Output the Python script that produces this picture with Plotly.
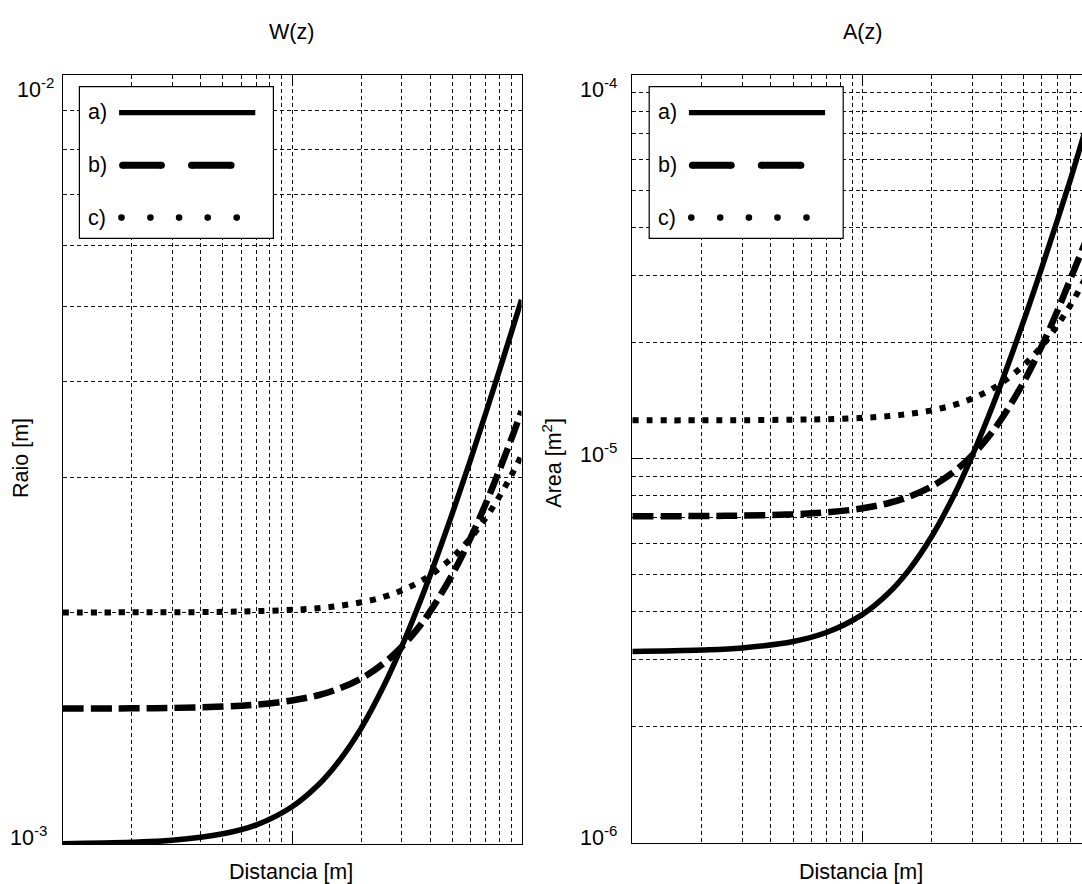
import plotly.graph_objects as go

# ---------------- data ----------------
distancia = [0.1, 0.2, 0.3, 0.5, 0.7, 1.0, 1.3, 1.6, 2.0, 2.5, 3.0, 3.5, 4.0,
             5.0, 6.0, 7.0, 8.0, 9.0, 10.0]

# Raio W(z) in mm
raio_a_mm = [1.001, 1.005, 1.011, 1.031, 1.059, 1.118, 1.193, 1.281, 1.414, 1.601,
             1.803, 2.016, 2.236, 2.693, 3.162, 3.640, 4.123, 4.610, 5.099]
raio_b_mm = [1.500, 1.501, 1.503, 1.509, 1.518, 1.537, 1.561, 1.592, 1.641, 1.716,
             1.803, 1.900, 2.007, 2.242, 2.500, 2.774, 3.060, 3.354, 3.655]
raio_c_mm = [2.000, 2.001, 2.001, 2.004, 2.008, 2.016, 2.026, 2.040, 2.062, 2.095,
             2.136, 2.183, 2.236, 2.359, 2.500, 2.658, 2.828, 3.010, 3.202]

# Area A(z) in mm^2
area_a_mm2 = [3.145, 3.173, 3.212, 3.338, 3.527, 3.927, 4.469, 5.152, 6.283, 8.050,
              10.21, 12.76, 15.71, 22.78, 31.42, 41.63, 53.41, 67.50, 83.00]
area_b_mm2 = [7.072, 7.083, 7.100, 7.156, 7.240, 7.418, 7.659, 7.962, 8.465, 9.250,
              10.21, 11.35, 12.65, 15.80, 19.64, 24.17, 29.41, 35.00, 41.00]
area_c_mm2 = [12.57, 12.57, 12.58, 12.62, 12.66, 12.76, 12.90, 13.07, 13.35, 13.79,
              14.33, 14.97, 15.71, 17.48, 19.63, 22.19, 25.13, 28.47, 32.20]

legend_labels = ["a)", "b)", "c)"]
titles = ["W(z)", "A(z)"]
x_title = "Distancia [m]"
y_titles = ["Raio [m]", "Area [m<sup>2</sup>]"]

x_major = [0.1, 1, 10]
x_minor = [0.2, 0.3, 0.4, 0.5, 0.6, 0.7, 0.8, 0.9, 2, 3, 4, 5, 6, 7, 8, 9]
y1_major = [1e-3, 1e-2]
y1_minor = [2e-3, 3e-3, 4e-3, 5e-3, 6e-3, 7e-3, 8e-3, 9e-3]
y2_major = [1e-6, 1e-5, 1e-4]
y2_minor = [2e-6, 3e-6, 4e-6, 5e-6, 6e-6, 7e-6, 8e-6, 9e-6,
            2e-5, 3e-5, 4e-5, 5e-5, 6e-5, 7e-5, 8e-5, 9e-5]
y1_ticklabels = ["10<sup>-3</sup>", "10<sup>-2</sup>"]
y2_ticklabels = ["10<sup>-6</sup>", "10<sup>-5</sup>", "10<sup>-4</sup>"]

# ---------------- layout helpers ----------------
WIDTH, HEIGHT = 1082, 884
FONT = "Liberation Sans, Arial, sans-serif"
FS = 21.5


def px(x):
    """page pixel x -> paper fraction"""
    return x / WIDTH


def py(y):
    """page pixel y -> paper fraction"""
    return 1 - y / HEIGHT


raio_a = [v * 1e-3 for v in raio_a_mm]
raio_b = [v * 1e-3 for v in raio_b_mm]
raio_c = [v * 1e-3 for v in raio_c_mm]
area_a = [v * 1e-6 for v in area_a_mm2]
area_b = [v * 1e-6 for v in area_b_mm2]
area_c = [v * 1e-6 for v in area_c_mm2]

styles = [
    dict(color="black", width=5.5, dash="solid"),
    dict(color="black", width=6.5, dash="21px,7px"),
    dict(color="black", width=6, dash="6px,8px"),
]

fig = go.Figure()
for ys, st in zip([raio_a, raio_b, raio_c], styles):
    fig.add_trace(go.Scatter(x=distancia, y=ys, mode="lines", line=dict(shape="spline", **st),
                             xaxis="x", yaxis="y", showlegend=False, hoverinfo="skip"))
for ys, st in zip([area_a, area_b, area_c], styles):
    fig.add_trace(go.Scatter(x=distancia, y=ys, mode="lines", line=dict(shape="spline", **st),
                             xaxis="x2", yaxis="y2", showlegend=False, hoverinfo="skip"))

GRID = dict(showgrid=True, gridcolor="#111111", gridwidth=1, griddash="4px,3px")


def axis(domain, rng, major, minor, mirror, anchor):
    return dict(
        type="log", domain=domain, range=rng, anchor=anchor,
        tickmode="array", tickvals=major, showticklabels=False,
        ticks="inside", ticklen=11, tickwidth=1.2, tickcolor="black",
        showline=True, linecolor="black", linewidth=1.3, mirror=mirror,
        zeroline=False, fixedrange=True,
        minor=dict(tickmode="array", tickvals=minor, ticks="", **GRID),
        **GRID,
    )


# pixel geometry (page coordinates)
L1, R1 = 62.5, 521.5
T1, B1 = 75.0, 844.0
L2 = 632.3
DEC2 = 230.3
T2, B2 = 74.5, 842.5

fig.update_layout(
    width=WIDTH, height=HEIGHT, autosize=False,
    margin=dict(l=0, r=0, t=0, b=0, pad=0),
    paper_bgcolor="white", plot_bgcolor="white",
    showlegend=False, hovermode=False, dragmode=False,
    font=dict(family=FONT, size=FS, color="black"),
    xaxis=axis([px(L1), px(R1)], [-1, 1], x_major, x_minor, "ticks", "y"),
    yaxis=axis([py(B1), py(T1)], [-3, -2], y1_major, y1_minor, "ticks", "x"),
    xaxis2=axis([px(L2), 1.0], [-1, -1 + (WIDTH - L2) / DEC2], x_major, x_minor, "ticks", "y2"),
    yaxis2=axis([py(B2), py(T2)], [-6, -4], y2_major, y2_minor, False, "x2"),
)

annotations = []


def text(x, y, s, xanchor="center", yanchor="middle", angle=0):
    annotations.append(dict(x=px(x), y=py(y), xref="paper", yref="paper", text=s,
                            showarrow=False, xanchor=xanchor, yanchor=yanchor,
                            textangle=angle, font=dict(family=FONT, size=FS, color="black")))


# titles
text(291.9, 32, titles[0])
text(862.6, 32, titles[1])
# x titles
text(290.5, 872, x_title)
text(860.7, 872, x_title)
# y titles
text(21, 458, y_titles[0], angle=-90)
text(551.7, 463, y_titles[1], angle=-90)
# y tick labels
text(48.5, 836, y1_ticklabels[0], xanchor="right")
text(55.5, 88, y1_ticklabels[1], xanchor="right")
text(618.6, 836, y2_ticklabels[0], xanchor="right")
text(618.6, 453, y2_ticklabels[1], xanchor="right")
text(618.6, 88, y2_ticklabels[2], xanchor="right")

shapes = []


def legend_box(left):
    bx0, bx1, by0, by1 = left + 16.9, left + 16.9 + 194, 86.7, 238.3
    shapes.append(dict(type="rect", xref="paper", yref="paper",
                       x0=px(bx0), x1=px(bx1), y0=py(by1), y1=py(by0),
                       line=dict(color="black", width=1.2), fillcolor="white", layer="above"))
    rows = [111.7, 165.3, 217.6]
    for lab, yy in zip(legend_labels, rows):
        text(bx0 + 7.0, yy, lab, xanchor="left")
    # a) solid
    shapes.append(dict(type="line", xref="paper", yref="paper",
                       x0=px(bx0 + 39.7), x1=px(bx0 + 175.9), y0=py(112.7), y1=py(112.7),
                       line=dict(color="black", width=5.3)))
    # b) two dashes with rounded ends
    r = 3.5
    for a, b in [(39.7, 85.5), (108.6, 155.2)]:
        shapes.append(dict(type="line", xref="paper", yref="paper",
                           x0=px(bx0 + a + r), x1=px(bx0 + b - r), y0=py(165.3), y1=py(165.3),
                           line=dict(color="black", width=2 * r)))
        for cx in (bx0 + a + r, bx0 + b - r):
            shapes.append(dict(type="circle", xref="paper", yref="paper",
                               x0=px(cx - r), x1=px(cx + r), y0=py(165.3 + r), y1=py(165.3 - r),
                               line=dict(width=0), fillcolor="black"))
    # c) dots
    rd = 3.3
    for off in [42.1, 71.0, 99.7, 128.3, 157.3]:
        cx = bx0 + off
        shapes.append(dict(type="circle", xref="paper", yref="paper",
                           x0=px(cx - rd), x1=px(cx + rd), y0=py(217.6 + rd), y1=py(217.6 - rd),
                           line=dict(width=0), fillcolor="black"))


legend_box(L1)
legend_box(L2)

fig.update_layout(annotations=annotations, shapes=shapes)

# full-bleed page: no body margin, no scrollbars
page_css = ("document.documentElement.style.margin='0';"
            "document.documentElement.style.overflow='hidden';"
            "document.body.style.margin='0';"
            "document.body.style.overflow='hidden';")
fig.write_html("out.html", post_script=page_css, config={"displayModeBar": False})
